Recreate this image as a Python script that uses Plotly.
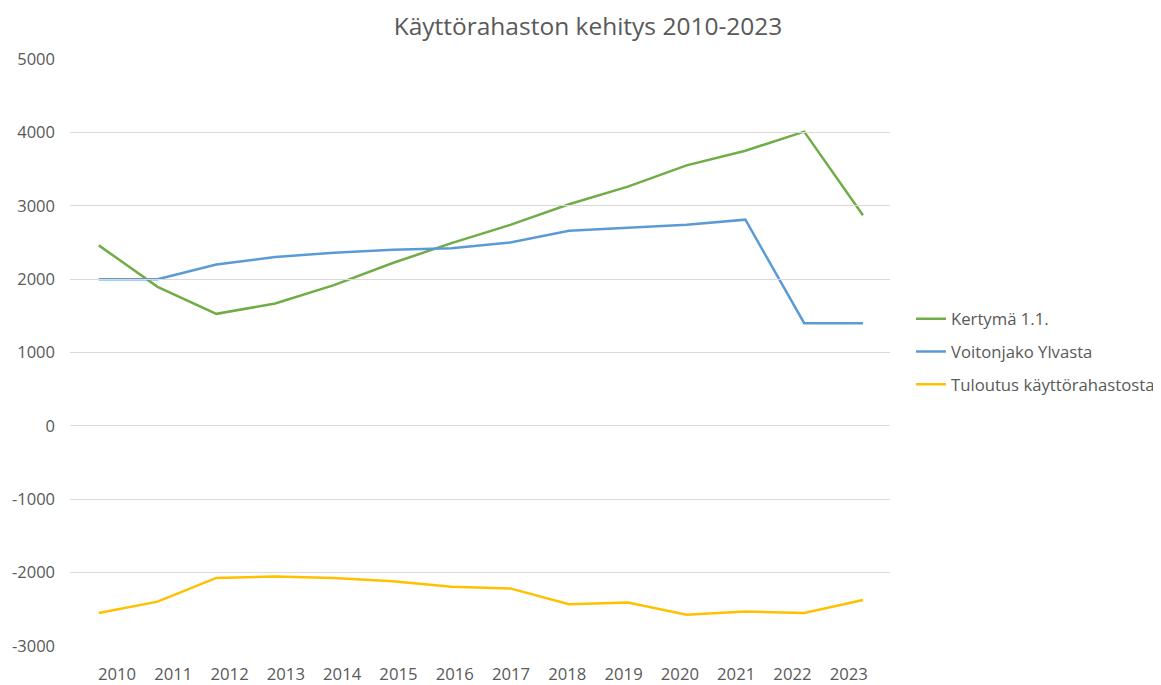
import plotly.graph_objects as go

years = [str(y) for y in range(2010, 2024)]
kertyma = [2460, 1895, 1527, 1668, 1918, 2220, 2490, 2740, 3020, 3260, 3550, 3750, 4010, 2870]
voitonjako = [2000, 2000, 2200, 2300, 2360, 2400, 2420, 2500, 2660, 2700, 2740, 2810, 1400, 1400]
tuloutus = [-2551, -2395, -2072, -2054, -2072, -2117, -2193, -2215, -2430, -2408, -2574, -2529, -2551, -2372]
names = ["Kertymä 1.1.", "Voitonjako Ylvasta", "Tuloutus käyttörahastosta"]
colors = ["#70AD47", "#5B9BD5", "#FFC000"]
ytick_vals = list(range(-3000, 5001, 1000))
ytick_text = [str(v) for v in ytick_vals]

FONT = "Open Sans"
W, H = 1153, 677  # page body margin offsets the figure by 8px

fig = go.Figure()
for vals, name, col in zip([kertyma, voitonjako, tuloutus], names, colors):
    fig.add_trace(go.Scatter(x=years, y=vals, name=name, mode="lines",
                             legendgroup=name,
                             line=dict(color=col, width=2.5)))
# invisible helper trace so the label axis has categories
fig.add_trace(go.Scatter(x=years, y=kertyma, xaxis="x2", mode="lines",
                         line=dict(width=0), opacity=0, showlegend=False,
                         hoverinfo="skip"))

fig.update_layout(
    width=W, height=H,
    margin=dict(l=62, r=271, t=51, b=39),
    paper_bgcolor="white", plot_bgcolor="rgba(0,0,0,0)",
    title=dict(text="Käyttörahaston kehitys 2010-2023", xref="container",
               x=580 / W, xanchor="center",
               yref="container", y=1 - 18 / H, yanchor="middle",
               font=dict(family=FONT, size=24.5, color="#595959")),
    xaxis=dict(type="category", range=[-0.49, 13.46], showgrid=False,
               showticklabels=False, showline=False, zeroline=False,
               automargin=False),
    xaxis2=dict(type="category", range=[-0.5, 13.5], domain=[0.023, 0.984],
                anchor="y", showgrid=False, showline=False, zeroline=False,
                ticklabelstandoff=16, automargin=False,
                tickfont=dict(family=FONT, size=16.7, color="#595959")),
    yaxis=dict(range=[-3000, 5000], tickvals=ytick_vals, ticktext=ytick_text,
               showgrid=True,
               gridcolor="#D9D9D9", gridwidth=1, zeroline=True,
               zerolinecolor="#D9D9D9", zerolinewidth=1, showline=False,
               ticklabelstandoff=14, automargin=False,
               tickfont=dict(family=FONT, size=16.5, color="#595959")),
    legend=dict(xref="container", x=903 / W, xanchor="left",
                yref="container", y=1 - 344 / H, yanchor="middle",
                font=dict(family=FONT, size=16.7, color="#595959"),
                itemwidth=30, tracegroupgap=8),
    showlegend=True,
)

fig.write_html("out.html")
